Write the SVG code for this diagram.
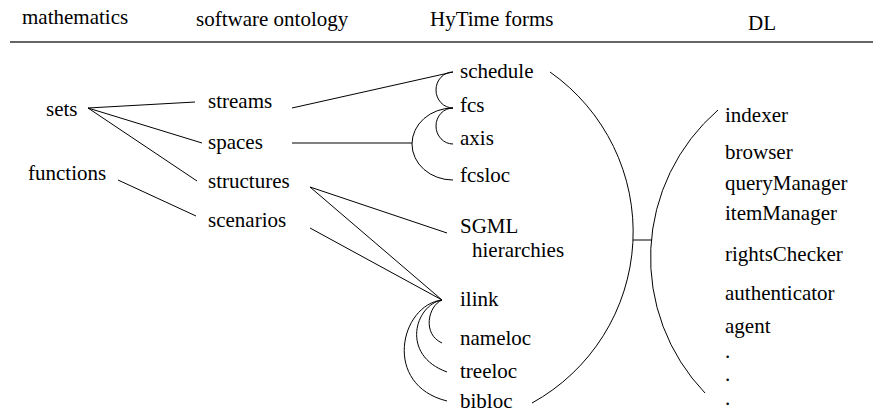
<svg xmlns="http://www.w3.org/2000/svg" width="873" height="412" viewBox="0 0 873 412" font-family="'Liberation Serif', 'Times New Roman', serif" font-size="21">
<style>
.c{fill:none;stroke:#000;stroke-width:1}
.rule{stroke:#333;stroke-width:1.4}
</style>
<rect width="873" height="412" fill="#fff"/>
<g id="header">
<text x="22" y="24">mathematics</text>
<text x="196" y="26">software ontology</text>
<text x="430" y="26">HyTime forms</text>
<text x="748" y="30">DL</text>
<line class="rule" x1="10" y1="42" x2="873" y2="42"/>
</g>
<g id="connectors">
<line class="c" x1="88" y1="108" x2="195" y2="102"/>
<line class="c" x1="88" y1="108" x2="202" y2="143"/>
<line class="c" x1="88" y1="108" x2="197" y2="181"/>
<line class="c" x1="118" y1="180" x2="196" y2="216"/>
<line class="c" x1="292" y1="108" x2="453" y2="72"/>
<line class="c" x1="292" y1="143" x2="412" y2="143"/>
<path class="c" d="M453 72 A17 18 0 0 0 453 108"/>
<path class="c" d="M453 108 A17 18 0 0 0 453 144"/>
<path class="c" d="M453 108 A41 36 0 0 0 453 180"/>
<line class="c" x1="310" y1="187" x2="447" y2="233"/>
<line class="c" x1="310" y1="187" x2="442" y2="300"/>
<line class="c" x1="310" y1="228" x2="442" y2="300"/>
<path class="c" d="M442 300 C428 306 422 334 442 343"/>
<path class="c" d="M442 300 C415 305 400 355 447 372"/>
<path class="c" d="M442 300 C400 305 382 385 447 401"/>
<path class="c" d="M550 72 A195.3 195.3 0 0 1 532 403"/>
<path class="c" d="M718 110 A195.5 195.5 0 0 0 705 393"/>
<line class="c" x1="633" y1="240" x2="652" y2="240"/>
</g>
<g id="n-sets"><text x="46" y="116">sets</text></g>
<g id="n-functions"><text x="28" y="180">functions</text></g>
<g id="n-streams"><text x="208" y="108">streams</text></g>
<g id="n-spaces"><text x="208" y="149">spaces</text></g>
<g id="n-structures"><text x="208" y="188">structures</text></g>
<g id="n-scenarios"><text x="208" y="227">scenarios</text></g>
<g id="n-schedule"><text x="460" y="78">schedule</text></g>
<g id="n-fcs"><text x="460" y="112">fcs</text></g>
<g id="n-axis"><text x="460" y="145">axis</text></g>
<g id="n-fcsloc"><text x="460" y="182">fcsloc</text></g>
<g id="n-sgml"><text x="460" y="233">SGML</text><text x="472" y="257">hierarchies</text></g>
<g id="n-ilink"><text x="460" y="306">ilink</text></g>
<g id="n-nameloc"><text x="460" y="345">nameloc</text></g>
<g id="n-treeloc"><text x="460" y="378">treeloc</text></g>
<g id="n-bibloc"><text x="460" y="408">bibloc</text></g>
<g id="n-dl">
<text x="725" y="122">indexer</text>
<text x="725" y="159">browser</text>
<text x="725" y="190">queryManager</text>
<text x="725" y="220">itemManager</text>
<text x="725" y="261">rightsChecker</text>
<text x="725" y="300">authenticator</text>
<text x="725" y="333">agent</text>
<text x="725" y="358">.</text>
<text x="725" y="381">.</text>
<text x="725" y="405">.</text>
</g>
</svg>
